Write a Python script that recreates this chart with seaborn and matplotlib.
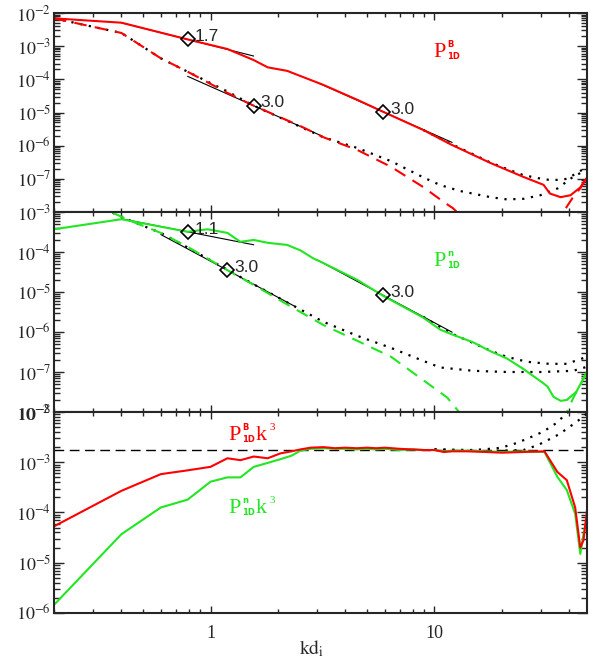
import numpy as np
import matplotlib
matplotlib.use("Agg")
import matplotlib.pyplot as plt
import matplotlib.ticker as mticker
import seaborn as sns

# ---- data ----
# top panel: magnetic spectrum P_1D^B
xB = [0.2, 0.4, 0.79, 1.19, 1.56, 1.8, 2.2, 2.52, 3.19, 4.53, 5.9, 8.93, 11.8,
      17.8, 24.9, 30.7, 32.8, 36.6, 40.5, 44.8, 48]
yB = [6.9e-3, 5.1e-3, 1.6e-3, 8.2e-4, 3.8e-4, 2.3e-4, 1.8e-4, 1.26e-4, 6.8e-5,
      2.4e-5, 1.05e-5, 2.95e-6, 1.1e-6, 3e-7, 1.15e-7, 6.6e-8, 3.6e-8, 2.8e-8,
      3.2e-8, 5.5e-8, 1.1e-7]
xB_dash = [0.2, 0.4, 0.6, 0.79, 1.19, 1.56, 2.52, 3.19, 4.53, 6.4, 8.93, 11, 12.1,
           14, 20, 30, 36, 39, 41.6, 44.8, 48]
yB_dash = [6.9e-3, 2.5e-3, 4.3e-4, 1.7e-4, 3.9e-5, 1.6e-5, 3.9e-6, 1.8e-6, 7.4e-7,
           2.3e-7, 5.6e-8, 2e-8, 1.3e-8, 5e-9, 1.5e-9, 1.5e-9, 5e-9, 1.45e-8,
           2.8e-8, 5.2e-8, 1.1e-7]
xB_dot1 = [8.93, 11.8, 14.9, 17.8, 21, 24.9, 29, 32.5, 36, 39, 44, 48]
yB_dot1 = [2.95e-6, 1.15e-6, 5.5e-7, 3.1e-7, 2e-7, 1.3e-7, 1.05e-7, 9.3e-8, 9.3e-8,
           1e-7, 1.6e-7, 2.3e-7]
xB_dot2 = [0.2, 0.4, 0.6, 0.79, 1.19, 1.56, 2.27, 3.19, 4.53, 6.4, 8.93, 10.6, 13,
           17.8, 21, 25, 29.7, 35.4, 41.6, 48]
yB_dot2 = [6.9e-3, 2.5e-3, 4.3e-4, 1.7e-4, 4.3e-5, 1.6e-5, 5.1e-6, 1.8e-6, 8.5e-7,
           3.4e-7, 1.1e-7, 6.5e-8, 4.3e-8, 2.8e-8, 2.4e-8, 2.5e-8, 3.2e-8, 5.1e-8,
           1.15e-7, 1.9e-7]

# middle panel: density spectrum P_1D^n
xN = [0.2, 0.4, 0.79, 0.97, 1.19, 1.36, 1.56, 1.8, 2.2, 2.52, 2.88, 3.19, 4.53, 5.9,
      8.9, 10.6, 11.8, 14.9, 17.8, 21, 24.9, 30.7, 32, 34, 36.6, 39, 43, 48]
yN = [3.7e-4, 6.6e-4, 3.2e-4, 3.7e-4, 3e-4, 1.8e-4, 2e-4, 1.7e-4, 1.5e-4, 1.1e-4,
      6.9e-5, 5.3e-5, 2e-5, 8.0e-6, 2.3e-6, 1.15e-6, 9.0e-7, 5.5e-7, 3.3e-7, 2.2e-7,
      1.2e-7, 5.2e-8, 4.3e-8, 2.4e-8, 1.9e-8, 2e-8, 3.2e-8, 1e-7]
xN_dash = [0.2, 0.365, 0.45, 0.6, 0.79, 1.19, 1.56, 2.27, 3.19, 4.53, 6.4, 8.9, 11.4,
           12.7, 14, 20, 30, 38, 41.6, 45, 48]
yN_dash = [3.2e-3, 9.6e-4, 5.7e-4, 3e-4, 1.35e-4, 3.5e-5, 1.5e-5, 4.4e-6, 1.5e-6,
           6e-7, 2.4e-7, 6.3e-8, 2.3e-8, 1.1e-8, 6e-9, 2e-9, 2e-9, 7e-9, 2.2e-8,
           5e-8, 1e-7]
xN_dot1 = [8.9, 11.8, 14.9, 17.8, 21, 25.9, 32.5, 39, 44.8, 48]
yN_dot1 = [2.4e-6, 9.4e-7, 5.3e-7, 3.4e-7, 2.4e-7, 1.8e-7, 1.6e-7, 1.6e-7, 2.1e-7,
           2.4e-7]
xN_dot2 = [0.2, 0.365, 0.45, 0.6, 0.79, 1.19, 1.56, 2.27, 3.19, 4.53, 6.4, 8.9, 10.6,
           14.9, 21, 30, 41.6, 48]
yN_dot2 = [3.2e-3, 9.6e-4, 5.7e-4, 3e-4, 1.3e-4, 3.6e-5, 1.55e-5, 5e-6, 1.8e-6,
           8e-7, 4e-7, 1.9e-7, 1.3e-7, 1.07e-7, 1e-7, 1e-7, 1.07e-7, 1.35e-7]

# bottom panel: compensated spectra P k^3
xK = [0.2, 0.4, 0.6, 0.79, 1.0, 1.19, 1.36, 1.56, 1.8, 2.05, 2.3, 2.52, 2.8, 3.2,
      3.6, 4.0, 4.5, 5, 5.5, 6, 7, 8, 9, 10, 11, 12, 14, 17, 20, 25, 31, 35.4, 39,
      42.5, 44.8, 46.3, 48]
yBk3 = [5.3e-5, 2.7e-4, 5.8e-4, 6.9e-4, 8.1e-4, 1.2e-3, 1.1e-3, 1.3e-3, 1.2e-3,
        1.5e-3, 1.65e-3, 1.8e-3, 1.95e-3, 2.0e-3, 1.9e-3, 1.95e-3, 1.9e-3, 1.95e-3,
        1.9e-3, 1.95e-3, 1.85e-3, 1.8e-3, 1.75e-3, 1.75e-3, 1.6e-3, 1.65e-3, 1.65e-3,
        1.6e-3, 1.55e-3, 1.6e-3, 1.65e-3, 6.4e-4, 4.4e-4, 1.26e-4, 2e-5, 2.8e-5, 1.1e-4]
yNk3 = [1.45e-6, 3.7e-5, 1.26e-4, 1.8e-4, 4.1e-4, 5e-4, 5e-4, 8.1e-4, 9.7e-4,
        1.15e-3, 1.35e-3, 1.7e-3, 1.85e-3, 1.9e-3, 1.85e-3, 1.85e-3, 1.8e-3, 1.85e-3,
        1.8e-3, 1.85e-3, 1.75e-3, 1.8e-3, 1.75e-3, 1.75e-3, 1.65e-3, 1.7e-3, 1.7e-3,
        1.65e-3, 1.6e-3, 1.65e-3, 1.6e-3, 5.1e-4, 2.8e-4, 9.4e-5, 1.5e-5, 3.7e-5, 8e-5]
xK_dot1 = [10, 15, 19, 22, 25, 28, 30.7, 35, 39, 43]
yK_dot1 = [1.8e-3, 1.75e-3, 1.9e-3, 2.2e-3, 2.75e-3, 3.4e-3, 4.1e-3, 6e-3, 9.5e-3, 1.3e-2]
xK_dot2 = [10, 15, 20, 25, 29, 32.8, 36, 40, 46, 48]
yK_dot2 = [1.8e-3, 1.7e-3, 1.7e-3, 1.75e-3, 2.2e-3, 2.9e-3, 3.6e-3, 5e-3, 7.9e-3, 9.5e-3]
k3_level = 1.75e-3

# power-law fits: x range, anchor (diamond) and slope
fitB_x0 = [0.4, 0.79, 3.0]
fitB_x1 = [1.56, 3.1, 12.0]
fitB_xc = [0.79, 1.56, 5.9]
fitB_yc = [1.6e-3, 1.6e-5, 1.05e-5]
fitB_slope = [1.7, 3.0, 3.0]
fitN_x0 = [0.4, 0.6, 3.0]
fitN_x1 = [1.56, 2.4, 12.0]
fitN_xc = [0.79, 1.19, 5.9]
fitN_yc = [3.2e-4, 3.5e-5, 8.3e-6]
fitN_slope = [1.1, 3.0, 3.0]

RED = "#ff0000"
GREEN = "#22e622"

sns.set_theme(style="ticks")
plt.rcParams["font.family"] = ["Liberation Serif", "DejaVu Serif"]
plt.rcParams["mathtext.fontset"] = "stix"
plt.rcParams["axes.linewidth"] = 1.5

fig = plt.figure(figsize=(5.9, 6.66), dpi=100)
W, H = 590.0, 666.0
x_left, x_right = 54, 587
rows = [(13, 212), (212, 412), (412, 613)]
axes = []
for top, bot in rows:
    ax = fig.add_axes([x_left / W, 1 - bot / H, (x_right - x_left) / W, (bot - top) / H])
    axes.append(ax)
ax1, ax2, ax3 = axes


def line(ax, x, y, color, ls="-", lw=1.5, z=2):
    sns.lineplot(x=x, y=y, ax=ax, color=color, linestyle=ls, lw=lw,
                 estimator=None, sort=False, zorder=z)


def fits(ax, x0, x1, xc, yc, slope):
    for a, b, c, v, s in zip(x0, x1, xc, yc, slope):
        xs = np.array([a, b])
        ax.plot(xs, v * (xs / c) ** (-s), color="black", lw=0.8, zorder=1.5)
        ax.plot([c], [v], marker="D", ms=7, mfc="none", mec="black", mew=1.2, zorder=6)
        ax.annotate(f"{s:.1f}", (c, v), xytext=(5, 2), textcoords="offset points",
                    va="center", ha="left", fontsize=12.5, family="Liberation Sans")


def plabel(x, base, sup, color, tail=False):
    # P with tiny sans super/subscript, positions in pixels
    fig.text(x / W, 1 - base / H, "P", color=color, fontsize=16, va="baseline")
    fig.text((x + 14) / W, 1 - (base - 10) / H, sup, color=color, fontsize=6,
             va="baseline", family="DejaVu Sans", weight="bold")
    fig.text((x + 14) / W, 1 - (base + 2) / H, "1D", color=color, fontsize=6,
             va="baseline", family="DejaVu Sans", weight="bold")
    if tail:
        fig.text((x + 27.5) / W, 1 - base / H, "k", color=color, fontsize=16,
                 va="baseline")
        fig.text((x + 41) / W, 1 - (base - 10) / H, "3", color=color, fontsize=8,
                 va="baseline")


dot = (0, (1, 3))
# top
line(ax1, xB_dot1, yB_dot1, "black", dot, 1.6)
line(ax1, xB_dot2, yB_dot2, "black", dot, 1.6)
line(ax1, xB_dash, yB_dash, RED, (0, (6, 4)))
line(ax1, xB, yB, RED)
fits(ax1, fitB_x0, fitB_x1, fitB_xc, fitB_yc, fitB_slope)
plabel(433, 57, "B", RED)

# middle
line(ax2, xN_dot1, yN_dot1, "black", dot, 1.6)
line(ax2, xN_dot2, yN_dot2, "black", dot, 1.6)
line(ax2, xN_dash, yN_dash, GREEN, (0, (6, 4)))
line(ax2, xN, yN, GREEN)
fits(ax2, fitN_x0, fitN_x1, fitN_xc, fitN_yc, fitN_slope)
plabel(433, 266, "n", GREEN)

# bottom
line(ax3, xK_dot1, yK_dot1, "black", dot, 1.6)
line(ax3, xK_dot2, yK_dot2, "black", dot, 1.6)
ax3.axhline(k3_level, color="black", lw=1.0, linestyle=(0, (7, 4)), zorder=1.5)
line(ax3, xK, yNk3, GREEN)
line(ax3, xK, yBk3, RED)
plabel(228, 440, "B", RED, tail=True)
plabel(228, 513, "n", GREEN, tail=True)

ylims = [(1e-8, 1e-2), (1e-8, 1e-3), (1e-6, 1e-2)]
hide = [-8, None, None]
for ax, (lo, hi), hd in zip(axes, ylims, hide):
    ax.set_xscale("log")
    ax.set_yscale("log")
    ax.set_xlim(0.2, 48)
    ax.set_xlabel("")
    ax.set_ylabel("")
    exps = list(range(int(round(np.log10(lo))), int(round(np.log10(hi))) + 1))
    ax.set_yticks([10.0 ** e for e in exps])
    ax.set_yticklabels(["" if e == hd else r"$10^{%d}$" % e for e in exps])
    ax.set_ylim(lo, hi)
    ax.xaxis.set_major_locator(mticker.LogLocator(base=10))
    ax.xaxis.set_minor_locator(mticker.LogLocator(base=10, subs=np.arange(2, 10)))
    ax.yaxis.set_minor_locator(mticker.LogLocator(base=10, subs=np.arange(2, 10),
                                                  numticks=20))
    ax.xaxis.set_minor_formatter(mticker.NullFormatter())
    ax.yaxis.set_minor_formatter(mticker.NullFormatter())
    ax.tick_params(axis="both", which="both", direction="in", top=True, right=True,
                   width=1.0, labelsize=13)
    ax.tick_params(axis="y", which="major", length=7, pad=2)
    ax.tick_params(axis="y", which="minor", length=4)
    ax.tick_params(axis="x", which="major", length=5, pad=9)
    ax.tick_params(axis="x", which="minor", length=3)
    for sp in ax.spines.values():
        sp.set_visible(True)
        sp.set_linewidth(1.5)

ax1.tick_params(axis="x", labelbottom=False)
ax2.tick_params(axis="x", labelbottom=False)
ax3.xaxis.set_major_formatter(mticker.FuncFormatter(lambda v, p: "%g" % v))

fig.text(312 / W, 1 - 649 / H, r"$\mathrm{kd}_{\mathrm{i}}$", ha="center", va="center",
         fontsize=14)

fig.savefig("out.png", dpi=100)
